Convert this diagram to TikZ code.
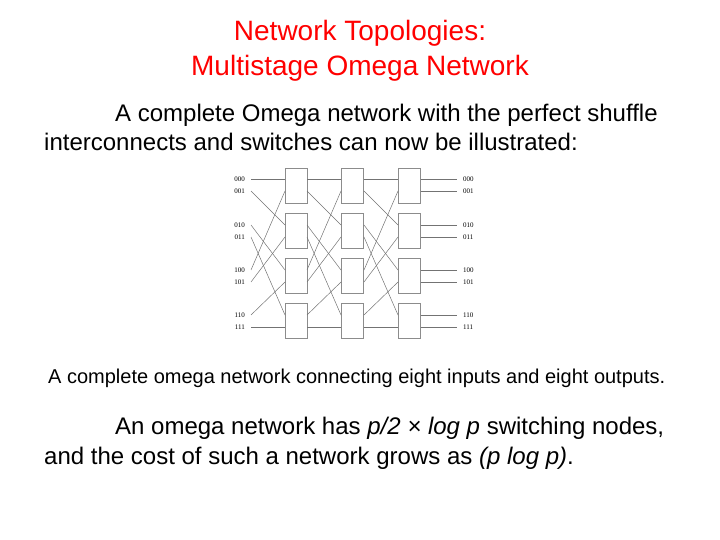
\documentclass[tikz,border=0pt]{standalone}
\usepackage{fontspec}
\setmainfont{Liberation Sans}
\newfontfamily\lab{Liberation Serif}
\begin{document}
\begin{tikzpicture}[x=1pt,y=-1pt,
  sw/.style={draw=black!45,line width=0.6pt,minimum width=22pt,minimum height=35pt,inner sep=0pt},
  wire/.style={draw=black!55,line width=0.5pt},
  lb/.style={font=\lab\fontsize{7}{7}\selectfont,inner sep=0pt},
  txt/.style={font=\fontsize{24}{28}\selectfont,inner sep=0pt}]
\useasboundingbox (0,0) rectangle (720,540);
\node[text=red,align=center,font=\fontsize{28}{35}\selectfont] (title) at (360,51) {Network Topologies:\\Multistage Omega Network};
\node[txt,anchor=base west] (t1) at (115,122) {A complete Omega network with the perfect shuffle};
\node[txt,anchor=base west] (t2) at (44,151) {interconnects and switches can now be illustrated:};
\node[font=\fontsize{20}{24}\selectfont,inner sep=0pt,anchor=base west] (cap) at (48,383) {A complete omega network connecting eight inputs and eight outputs.};
\node[txt,anchor=base west] (t3) at (115,434) {An omega network has \textit{p/2 × log p} switching nodes,};
\node[txt,anchor=base west] (t4) at (44,464) {and the cost of such a network grows as \textit{(p log p)}.};
% switches
\foreach \s/\x in {1/296,2/352.5,3/409.5}
  \foreach \r/\y in {0/185.5,1/231,2/276,3/321}
    \node[sw] (s\s\r) at (\x,\y) {};
% port coordinates
\foreach \p/\y in {0/179,1/191,2/225,3/237,4/270,5/282,6/315,7/327}{
  \coordinate (in\p) at (251,\y);
  \coordinate (out\p) at (457,\y);
  \coordinate (a\p) at (285,\y); \coordinate (b\p) at (307,\y);
  \coordinate (c\p) at (341,\y); \coordinate (d\p) at (364,\y);
  \coordinate (e\p) at (398,\y); \coordinate (f\p) at (421,\y);
}
\foreach \p/\l/\y in {0/000/179,1/001/191,2/010/225,3/011/237,4/100/270,5/101/282,6/110/315,7/111/327}{
  \node[lb,anchor=east] (L\p) at (245,\y) {\l};
  \node[lb,anchor=west] (R\p) at (463,\y) {\l};
  \draw[wire] (f\p) -- (out\p);
}
% perfect shuffle
\foreach \i/\j in {0/0,1/2,2/4,3/6,4/1,5/3,6/5,7/7}{
  \draw[wire] (in\i) -- (a\j);
  \draw[wire] (b\i) -- (c\j);
  \draw[wire] (d\i) -- (e\j);
}
\end{tikzpicture}
\end{document}
